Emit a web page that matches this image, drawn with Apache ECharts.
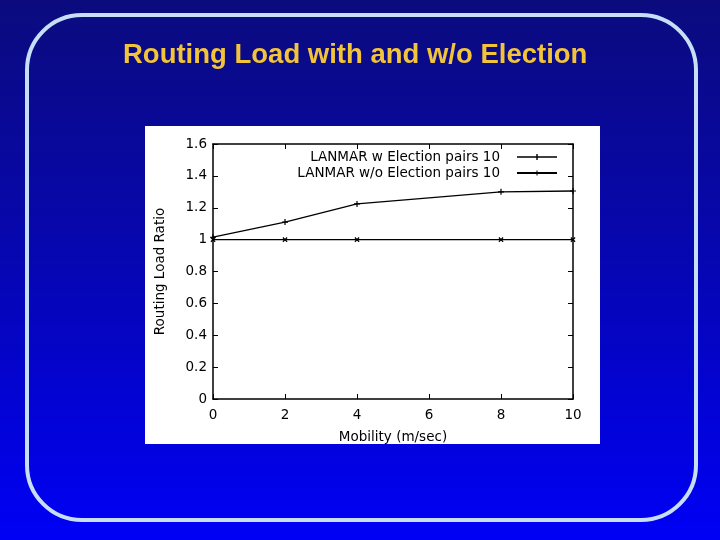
<!DOCTYPE html>
<html>
<head>
<meta charset="utf-8">
<title>Routing Load</title>
<script src="https://cdn.jsdelivr.net/npm/echarts@6/dist/echarts.min.js"></script>
<style>
  html, body { margin: 0; padding: 0; }
  #chart { width: 720px; height: 540px; }
</style>
</head>
<body>
<div id="chart"></div>
<script>
// data
var mobility = [0, 2, 4, 8, 10];
var withElection = [1.015, 1.11, 1.224, 1.30, 1.305];
var withoutElection = [1.0, 1.0, 1.0, 1.0, 1.0];
var seriesNames = ['LANMAR w Election pairs 10', 'LANMAR w/o Election pairs 10'];

function pairs(xs, ys) {
    var out = [];
    for (var i = 0; i < xs.length; i++) out.push([xs[i], ys[i]]);
    return out;
}

var plus = 'path://M0,2.4H6V3.6H0Z M2.4,0H3.6V6H2.4Z';
var font = '"DejaVu Sans", sans-serif';
var fs = 13.5;

var chart = echarts.init(document.getElementById('chart'));

var axisBase = {
    min: 0,
    axisLine: { show: true, onZero: false, lineStyle: { color: '#000', width: 1.5 } },
    axisTick: { show: true, inside: true, length: 5, lineStyle: { color: '#000' } },
    splitLine: { show: false }
};

var option = {
    backgroundColor: {
        type: 'linear', x: 0, y: 0, x2: 0, y2: 1,
        colorStops: [
            { offset: 0, color: '#0b0b7e' },
            { offset: 0.5, color: '#0606b4' },
            { offset: 1, color: '#0000f6' }
        ]
    },
    animation: false,
    title: {
        text: 'Routing Load with and w/o Election',
        left: 118,
        top: 36,
        textStyle: { color: '#f2c43a', fontSize: 27.5, fontWeight: 'bold', fontFamily: '"Liberation Sans", Arial, sans-serif' }
    },
    graphic: [
        {
            type: 'rect', z: -10,
            shape: { x: 27, y: 15, width: 669, height: 505, r: 55 },
            style: { fill: null, stroke: '#c6def6', lineWidth: 4 }
        },
        {
            type: 'rect', z: -9,
            shape: { x: 145, y: 126, width: 455, height: 318 },
            style: { fill: '#fff' }
        }
    ],
    legend: {
        orient: 'vertical',
        align: 'right',
        right: 158,
        top: 145,
        itemGap: 2,
        itemWidth: 40,
        itemHeight: 6,
        textStyle: { color: '#000', fontSize: fs, fontFamily: font, padding: [0, 12, 0, 0] },
        data: [
            { name: seriesNames[0], icon: 'path://M0,2.2H40V3.8H0Z M19.3,0H20.7V6H19.3Z' },
            { name: seriesNames[1], icon: 'path://M0,1.9H40V4.1H0Z M19.5,0.5H20.5V5.5H19.5Z' }
        ]
    },
    grid: { left: 213, right: 147, top: 144, bottom: 141 },
    xAxis: [
        Object.assign({}, axisBase, {
            type: 'value', max: 10, interval: 2,
            name: 'Mobility (m/sec)', nameLocation: 'middle', nameGap: 31,
            nameTextStyle: { color: '#000', fontSize: fs, fontFamily: font },
            axisLabel: { color: '#000', fontSize: fs, fontFamily: font, margin: 9 }
        }),
        Object.assign({}, axisBase, {
            type: 'value', max: 10, interval: 2, position: 'top',
            axisLabel: { show: false }
        })
    ],
    yAxis: [
        Object.assign({}, axisBase, {
            type: 'value', max: 1.6, interval: 0.2,
            name: 'Routing Load Ratio', nameLocation: 'middle', nameGap: 46,
            nameTextStyle: { color: '#000', fontSize: fs, fontFamily: font },
            axisLabel: { color: '#000', fontSize: fs, fontFamily: font, margin: 6 }
        }),
        Object.assign({}, axisBase, {
            type: 'value', max: 1.6, interval: 0.2, position: 'right',
            axisLabel: { show: false }
        })
    ],
    series: [
        {
            name: seriesNames[0],
            type: 'line',
            data: pairs(mobility, withElection),
            symbol: plus, symbolSize: 6,
            itemStyle: { color: '#000' },
            lineStyle: { color: '#000', width: 1.3 },
            clip: false
        },
        {
            name: seriesNames[1],
            type: 'line',
            data: pairs(mobility, withoutElection),
            symbol: plus, symbolSize: 6, symbolRotate: 45,
            itemStyle: { color: '#000' },
            lineStyle: { color: '#000', width: 1.2 },
            clip: false
        }
    ]
};

chart.setOption(option);
</script>
</body>
</html>
